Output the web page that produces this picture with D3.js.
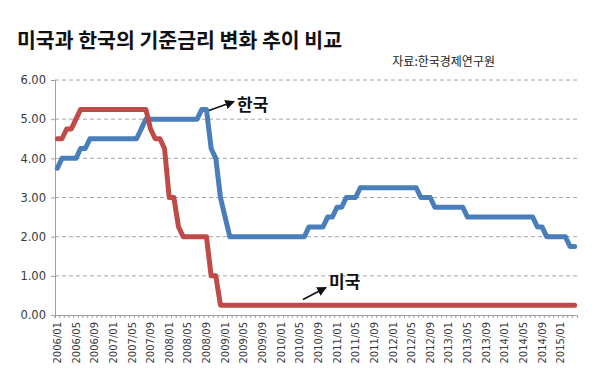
<!DOCTYPE html>
<html><head><meta charset="utf-8">
<script src="https://cdn.jsdelivr.net/npm/d3@7"></script>
<style>body{margin:0;background:#fff}svg{display:block}</style>
</head><body><div id="chart"></div>
<script>
// categories: monthly 2006/01 .. 2015/04 (112 months)
const categories = [];
for (let y = 2006; y <= 2015; y++) for (let m = 1; m <= 12; m++) {
  if (y === 2015 && m > 4) break;
  categories.push(y + "/" + String(m).padStart(2, "0"));
}
const koreaRate = [
  3.75, 4.00, 4.00, 4.00, 4.00, 4.25, 4.25, 4.50, 4.50, 4.50, 4.50, 4.50,
  4.50, 4.50, 4.50, 4.50, 4.50, 4.50, 4.75, 5.00, 5.00, 5.00, 5.00, 5.00,
  5.00, 5.00, 5.00, 5.00, 5.00, 5.00, 5.00, 5.25, 5.25, 4.25, 4.00, 3.00,
  2.50, 2.00, 2.00, 2.00, 2.00, 2.00, 2.00, 2.00, 2.00, 2.00, 2.00, 2.00,
  2.00, 2.00, 2.00, 2.00, 2.00, 2.00, 2.25, 2.25, 2.25, 2.25, 2.50, 2.50,
  2.75, 2.75, 3.00, 3.00, 3.00, 3.25, 3.25, 3.25, 3.25, 3.25, 3.25, 3.25,
  3.25, 3.25, 3.25, 3.25, 3.25, 3.25, 3.00, 3.00, 3.00, 2.75, 2.75, 2.75,
  2.75, 2.75, 2.75, 2.75, 2.50, 2.50, 2.50, 2.50, 2.50, 2.50, 2.50, 2.50,
  2.50, 2.50, 2.50, 2.50, 2.50, 2.50, 2.50, 2.25, 2.25, 2.00, 2.00, 2.00,
  2.00, 2.00, 1.75, 1.75
];
const usRate = [
  4.50, 4.50, 4.75, 4.75, 5.00, 5.25, 5.25, 5.25, 5.25, 5.25, 5.25, 5.25,
  5.25, 5.25, 5.25, 5.25, 5.25, 5.25, 5.25, 5.25, 4.75, 4.50, 4.50, 4.25,
  3.00, 3.00, 2.25, 2.00, 2.00, 2.00, 2.00, 2.00, 2.00, 1.00, 1.00, 0.25,
  0.25, 0.25, 0.25, 0.25, 0.25, 0.25, 0.25, 0.25, 0.25, 0.25, 0.25, 0.25,
  0.25, 0.25, 0.25, 0.25, 0.25, 0.25, 0.25, 0.25, 0.25, 0.25, 0.25, 0.25,
  0.25, 0.25, 0.25, 0.25, 0.25, 0.25, 0.25, 0.25, 0.25, 0.25, 0.25, 0.25,
  0.25, 0.25, 0.25, 0.25, 0.25, 0.25, 0.25, 0.25, 0.25, 0.25, 0.25, 0.25,
  0.25, 0.25, 0.25, 0.25, 0.25, 0.25, 0.25, 0.25, 0.25, 0.25, 0.25, 0.25,
  0.25, 0.25, 0.25, 0.25, 0.25, 0.25, 0.25, 0.25, 0.25, 0.25, 0.25, 0.25,
  0.25, 0.25, 0.25, 0.25
];
const tickLabels = ["2006/01","2006/05","2006/09","2007/01","2007/05","2007/09",
  "2008/01","2008/05","2008/09","2009/01","2009/05","2009/09","2010/01","2010/05",
  "2010/09","2011/01","2011/05","2011/09","2012/01","2012/05","2012/09","2013/01",
  "2013/05","2013/09","2014/01","2014/05","2014/09","2015/01"];
const yTicks = [0, 1, 2, 3, 4, 5, 6];
const title = "미국과 한국의 기준금리 변화 추이 비교";
const source = "자료:한국경제연구원";
const seriesNames = ["한국", "미국"];

const W = 600, H = 380;
const svg = d3.select("#chart").append("svg").attr("width", W).attr("height", H);
svg.append("rect").attr("width", W).attr("height", H).attr("fill", "#fff");

const x = d3.scaleBand().domain(categories).range([55, 577]);
const y = d3.scaleLinear().domain([0, 6]).range([315, 80]);
const xc = d => x(d) + x.bandwidth() / 2;

// gridlines
svg.append("g").selectAll("line").data(yTicks.filter(v => v > 0)).join("line")
  .attr("x1", 55).attr("x2", 577).attr("y1", d => y(d)).attr("y2", d => y(d))
  .attr("stroke", "#a6a6a6").attr("stroke-width", 1).attr("stroke-dasharray", "4,3");

// y axis
const yAxis = svg.append("g").attr("transform", "translate(55,0)")
  .call(d3.axisLeft(y).tickValues(yTicks).tickFormat(d3.format(".2f")).tickSize(4).tickPadding(5));
yAxis.select(".domain").attr("stroke", "#a0a0a0");
yAxis.selectAll(".tick line").attr("stroke", "#a0a0a0");
yAxis.selectAll("text").attr("font-family", "DejaVu Sans").attr("font-size", 11.5).attr("fill", "#3a3a3a");

// x axis: minor ticks every month
const xAxisMinor = svg.append("g").attr("transform", "translate(0,315)")
  .call(d3.axisBottom(x).tickValues(categories).tickSize(3).tickFormat(""));
xAxisMinor.select(".domain").attr("stroke", "#a0a0a0");
xAxisMinor.selectAll(".tick line").attr("stroke", "#a0a0a0")
  .attr("transform", `translate(${-x.bandwidth()/2},0)`);
const xAxis = svg.append("g").attr("transform", "translate(0,315)")
  .call(d3.axisBottom(x).tickValues(tickLabels).tickSize(0).tickPadding(0));
xAxis.select(".domain").remove();
xAxis.selectAll("text")
  .attr("transform", "rotate(-90)")
  .attr("text-anchor", "end")
  .attr("x", -7).attr("y", 0).attr("dy", "0.36em")
  .attr("font-family", "DejaVu Sans").attr("font-size", 10).attr("fill", "#3a3a3a");

// lines
const line = d3.line().x((d, i) => xc(categories[i])).y(d => y(d));
svg.append("path").datum(koreaRate).attr("d", line)
  .attr("fill", "none").attr("stroke", "#4a7ebb").attr("stroke-width", 5)
  .attr("stroke-linejoin", "round").attr("stroke-linecap", "round");
svg.append("path").datum(usRate).attr("d", line)
  .attr("fill", "none").attr("stroke", "#be4b48").attr("stroke-width", 5)
  .attr("stroke-linejoin", "round").attr("stroke-linecap", "round");

// arrows
svg.append("defs").append("marker").attr("id", "ah")
  .attr("viewBox", "0 0 10 10").attr("refX", 9).attr("refY", 5)
  .attr("markerWidth", 6).attr("markerHeight", 6).attr("orient", "auto")
  .append("path").attr("d", "M0,0 L10,5 L0,10 z").attr("fill", "#111");
svg.append("line").attr("x1", 209).attr("y1", 110.5).attr("x2", 234).attr("y2", 101.5)
  .attr("stroke", "#111").attr("stroke-width", 1.6).attr("marker-end", "url(#ah)");
svg.append("line").attr("x1", 303).attr("y1", 299.5).attr("x2", 326).attr("y2", 287.5)
  .attr("stroke", "#111").attr("stroke-width", 1.6).attr("marker-end", "url(#ah)");

svg.append("text").attr("x", 237).attr("y", 111).text(seriesNames[0])
  .attr("font-family", "Noto Sans CJK KR").attr("font-weight", 700).attr("font-size", 17).attr("fill", "#111");
svg.append("text").attr("x", 329).attr("y", 288).text(seriesNames[1])
  .attr("font-family", "Noto Sans CJK KR").attr("font-weight", 700).attr("font-size", 17).attr("fill", "#111");

// title & source
svg.append("text").attr("x", 17).attr("y", 48).text(title)
  .attr("font-family", "Noto Sans CJK KR").attr("font-weight", 700).attr("font-size", 20.5).attr("fill", "#111");
svg.append("text").attr("x", 495).attr("y", 66).attr("text-anchor", "end").text(source)
  .attr("font-family", "Noto Sans CJK KR").attr("font-size", 12).attr("fill", "#222");
</script></body></html>
